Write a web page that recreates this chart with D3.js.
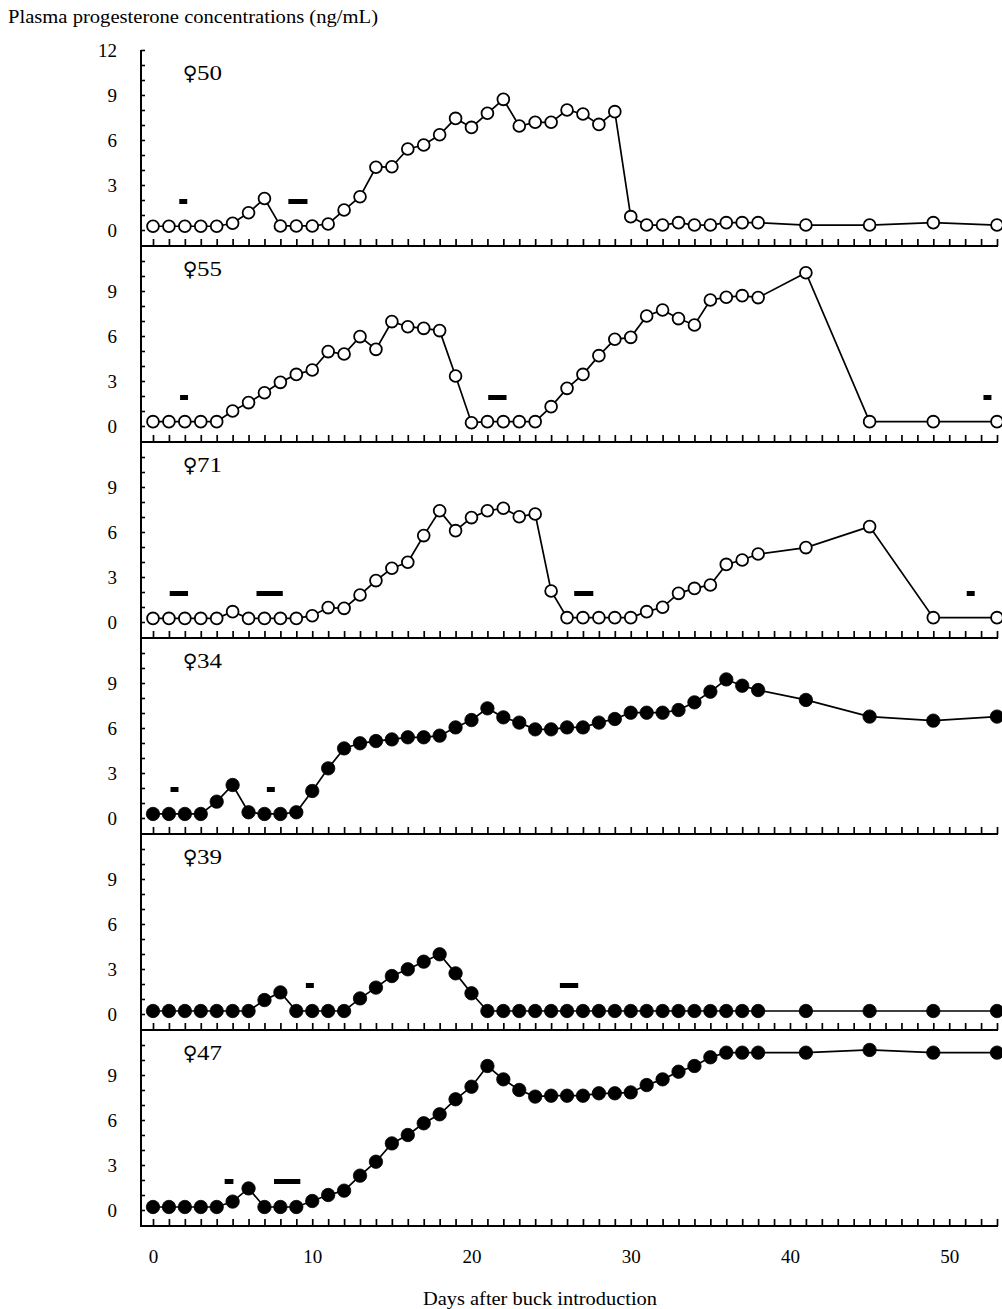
<!DOCTYPE html>
<html>
<head>
<meta charset="utf-8">
<script src="https://cdn.jsdelivr.net/npm/d3@7"></script>
<style>
  html, body { margin: 0; padding: 0; background: #fff; }
  svg { display: block; }
  text { font-family: "Liberation Serif", "Times New Roman", serif; fill: #000; }
</style>
</head>
<body>
<svg id="chart" width="1002" height="1309"></svg>
<script>
// ---------------- data ----------------
const days = [0,1,2,3,4,5,6,7,8,9,10,11,12,13,14,15,16,17,18,19,20,21,22,23,24,25,26,27,28,29,30,31,32,33,34,35,36,37,38,41,45,49,53];

const goatIds = ["50", "55", "71", "34", "39", "47"];
const goatOpen = [true, true, true, false, false, false];

const p50 = [0.25,0.25,0.25,0.25,0.25,0.45,1.15,2.1,0.27,0.27,0.27,0.4,1.33,2.22,4.18,4.22,5.4,5.67,6.35,7.44,6.84,7.78,8.71,6.93,7.18,7.18,8.0,7.73,7.04,7.89,0.89,0.33,0.33,0.49,0.33,0.33,0.49,0.49,0.49,0.33,0.33,0.49,0.33];
const p55 = [0.29,0.29,0.29,0.29,0.29,1.0,1.56,2.22,2.91,3.44,3.73,4.96,4.8,5.96,5.11,6.96,6.62,6.51,6.36,3.33,0.22,0.29,0.29,0.29,0.29,1.29,2.51,3.44,4.69,5.78,5.91,7.33,7.73,7.16,6.73,8.4,8.58,8.69,8.56,10.22,0.29,0.29,0.29];
const p71 = [0.24,0.24,0.24,0.24,0.24,0.69,0.24,0.24,0.24,0.24,0.42,0.96,0.91,1.8,2.76,3.58,3.98,5.76,7.42,6.09,6.96,7.42,7.58,7.02,7.2,2.07,0.29,0.29,0.29,0.29,0.29,0.69,0.98,1.91,2.24,2.47,3.84,4.13,4.53,4.96,6.36,0.29,0.29];
const p34 = [0.27,0.27,0.27,0.27,1.09,2.2,0.38,0.27,0.27,0.38,1.8,3.31,4.64,4.98,5.13,5.24,5.38,5.38,5.49,6.04,6.53,7.31,6.71,6.36,5.91,5.91,6.04,6.04,6.36,6.6,7.02,7.02,7.02,7.2,7.71,8.42,9.24,8.82,8.53,7.87,6.76,6.49,6.76];
const p39 = [0.2,0.2,0.2,0.2,0.2,0.2,0.2,0.93,1.44,0.2,0.2,0.2,0.2,1.04,1.76,2.53,2.98,3.49,3.98,2.71,1.38,0.2,0.2,0.2,0.2,0.2,0.2,0.2,0.2,0.2,0.2,0.2,0.2,0.2,0.2,0.2,0.2,0.2,0.2,0.2,0.2,0.2,0.2];
const p47 = [0.2,0.2,0.2,0.2,0.2,0.56,1.44,0.2,0.2,0.2,0.6,1.0,1.29,2.29,3.22,4.44,5.0,5.78,6.38,7.38,8.22,9.6,8.71,8.0,7.56,7.62,7.62,7.62,7.78,7.78,7.84,8.33,8.71,9.22,9.6,10.18,10.49,10.49,10.49,10.49,10.67,10.49,10.49];

// estrus periods (start day, end day), drawn as black bars
const bars50 = [[1.65,2.15],[8.5,9.7]];
const bars55 = [[1.7,2.2],[21.05,22.2],[52.15,52.65]];
const bars71 = [[1.05,2.2],[6.5,8.15],[26.45,27.65],[51.1,51.6]];
const bars34 = [[1.1,1.6],[7.15,7.65]];
const bars39 = [[9.6,10.1],[25.55,26.7]];
const bars47 = [[4.5,5.05],[7.6,9.25]];
const barLevel = 1.9;

const yTickLabels = [0,3,6,9,12];
const xTickLabels = [0,10,20,30,40,50];
const titleText = "Plasma progesterone concentrations (ng/mL)";
const xTitleText = "Days after buck introduction";

const seriesList = [p50, p55, p71, p34, p39, p47];
const barsList = [bars50, bars55, bars71, bars34, bars39, bars47];

// ---------------- layout ----------------
const svg = d3.select("#chart");
const axisX0 = 141;
const firstAxisY = 246;
const panelStep = 196;
const x = d3.scaleLinear().domain([0, 53]).range([153, 997]);

svg.append("text")
  .attr("x", 8).attr("y", 23)
  .attr("textLength", 370).attr("lengthAdjust", "spacingAndGlyphs")
  .style("font-size", "18px")
  .text(titleText);

const lastAxisY = firstAxisY + panelStep * (seriesList.length - 1);

// continuous left axis line
svg.append("line")
  .attr("x1", axisX0).attr("x2", axisX0)
  .attr("y1", firstAxisY - panelStep).attr("y2", lastAxisY + 1)
  .attr("stroke", "#000").attr("stroke-width", 2);

seriesList.forEach((vals, i) => {
  const axisY = firstAxisY + panelStep * i;
  const y = d3.scaleLinear().domain([0, 12]).range([axisY - 16, axisY - 196]);
  const g = svg.append("g");

  // y axis ticks (inward) + labels
  const maxTick = i === 0 ? 12 : 11;
  const yAxis = d3.axisLeft(y)
    .tickValues(d3.range(0, maxTick + 1))
    .tickSizeInner(-4)
    .tickSizeOuter(0)
    .tickPadding(24)
    .tickFormat(d => (yTickLabels.includes(d) && (i === 0 || d < 12)) ? d : "");
  const ya = g.append("g").attr("transform", `translate(${axisX0},0)`).call(yAxis);
  ya.select(".domain").remove();
  ya.selectAll("line").attr("stroke-width", 1.6);
  ya.selectAll("text").style("font-size", "19px").style("font-family", '"Liberation Serif", serif');

  // x axis line + upward ticks
  g.append("line")
    .attr("x1", axisX0 - 1).attr("x2", x(53) + 1)
    .attr("y1", axisY).attr("y2", axisY)
    .attr("stroke", "#000").attr("stroke-width", 2);
  const xAxis = d3.axisTop(x)
    .tickValues(d3.range(0, 54))
    .tickSizeInner(7)
    .tickSizeOuter(0)
    .tickFormat("");
  const xa = g.append("g").attr("transform", `translate(0,${axisY})`).call(xAxis);
  xa.select(".domain").remove();
  xa.selectAll("line").attr("stroke-width", 1.7);

  // estrus bars
  g.selectAll("rect.bar").data(barsList[i]).join("rect")
    .attr("class", "bar")
    .attr("x", d => x(d[0]))
    .attr("width", d => x(d[1]) - x(d[0]))
    .attr("y", y(barLevel) - 2.5)
    .attr("height", 5)
    .attr("fill", "#000");

  // line
  const pts = days.map((d, k) => [d, vals[k]]);
  g.append("path")
    .datum(pts)
    .attr("fill", "none")
    .attr("stroke", "#000")
    .attr("stroke-width", 1.7)
    .attr("d", d3.line().x(d => x(d[0])).y(d => y(d[1])));

  // markers
  const open = goatOpen[i];
  g.selectAll("circle").data(pts).join("circle")
    .attr("cx", d => x(d[0]))
    .attr("cy", d => y(d[1]))
    .attr("r", open ? 5.9 : 6.7)
    .attr("fill", open ? "#fff" : "#000")
    .attr("stroke", "#000")
    .attr("stroke-width", open ? 1.8 : 0.8);

  // panel label: female sign + id
  g.append("text")
    .attr("x", 190).attr("y", axisY - 166)
    .attr("text-anchor", "middle")
    .style("font-family", '"DejaVu Sans", sans-serif')
    .style("font-size", "20px")
    .text("\u2640");
  g.append("text")
    .attr("x", 197).attr("y", axisY - 166)
    .attr("textLength", 25).attr("lengthAdjust", "spacingAndGlyphs")
    .style("font-size", "20px")
    .text(goatIds[i]);
});

// bottom tick labels
const bx = d3.axisBottom(x).tickValues(xTickLabels).tickSize(0).tickPadding(24);
const bxa = svg.append("g").attr("transform", `translate(0,${lastAxisY})`).call(bx);
bxa.select(".domain").remove();
bxa.selectAll("text").style("font-size", "19px").style("font-family", '"Liberation Serif", serif');

svg.append("text")
  .attr("x", 540).attr("y", 1305)
  .attr("text-anchor", "middle")
  .attr("textLength", 234).attr("lengthAdjust", "spacingAndGlyphs")
  .style("font-size", "19px")
  .text(xTitleText);
</script>
</body>
</html>
